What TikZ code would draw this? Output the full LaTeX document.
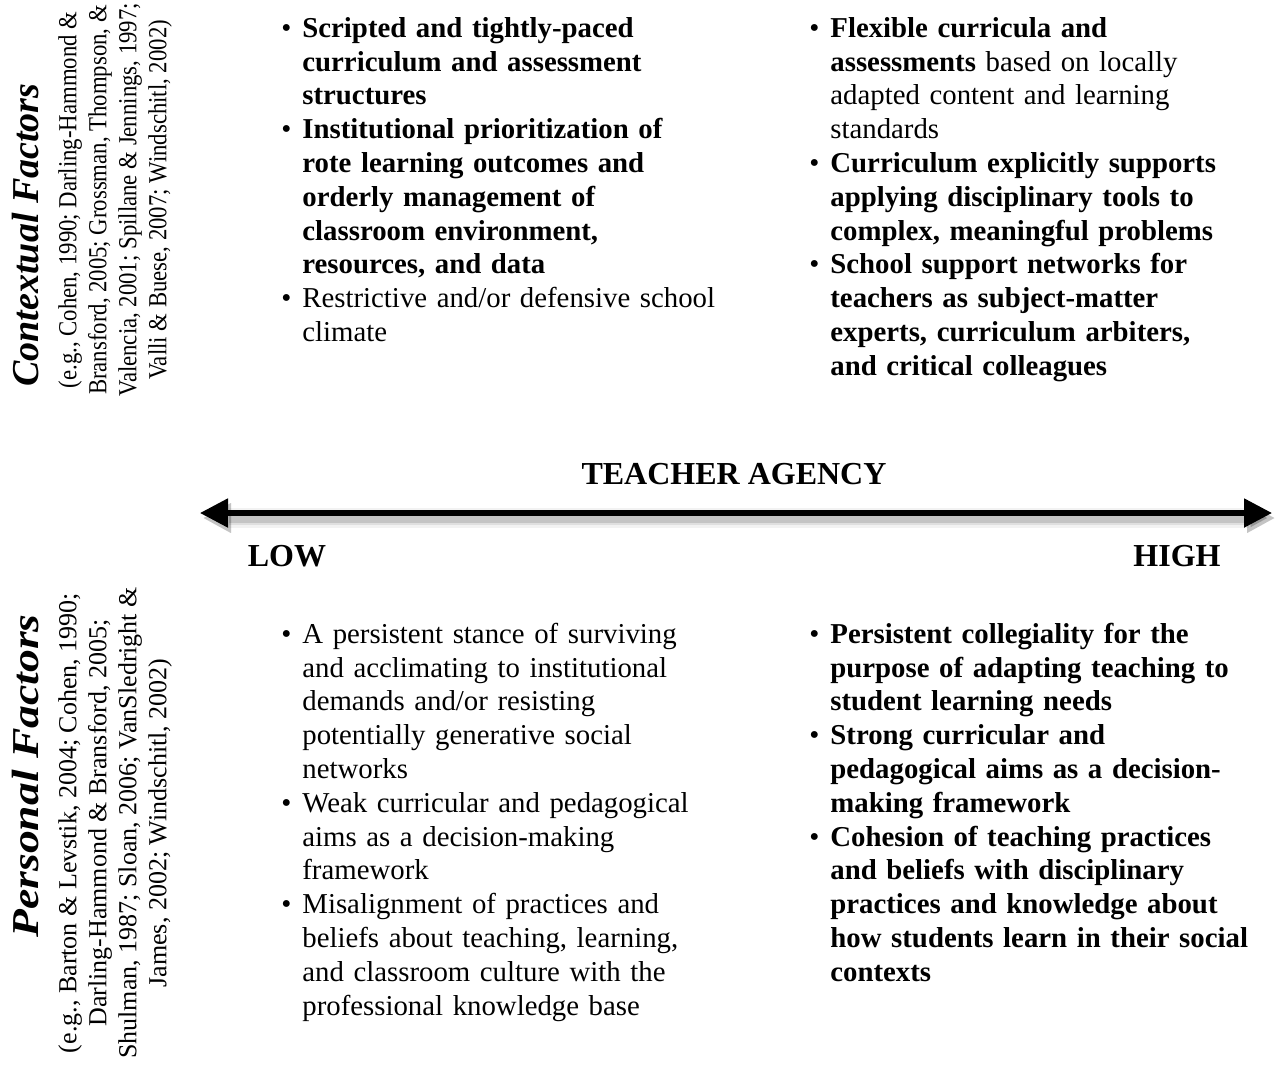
\documentclass[tikz,border=0pt]{standalone}
\usepackage{fontspec}
\setmainfont{Liberation Serif}
\newfontfamily\ctxcitefont[FakeStretch=0.875]{Liberation Serif}
\newfontfamily\perstitlefont[FakeStretch=1.2]{Liberation Serif}
\usepackage{enumitem}
\usetikzlibrary{arrows.meta, positioning}

% list used inside the four quadrant nodes
\newenvironment{agencylist}{%
  \begin{itemize}[leftmargin=11.5pt, labelsep=5.5pt, itemsep=0pt, topsep=0pt,
    parsep=0pt, partopsep=0pt, label=\textbullet]}{\end{itemize}}

\tikzset{
  quadrant/.style={anchor=north west, inner sep=0pt, text width=235pt,
    font=\fontsize{14.4}{16.9}\selectfont\raggedright},
  factortitle/.style={rotate=90, inner sep=0pt, font=\fontsize{19}{22}\selectfont\bfseries\itshape},
  citation/.style={rotate=90, inner sep=0pt, align=center, font=\fontsize{13}{15}\selectfont},
  ctxcitation/.style={citation, font=\fontsize{13}{15}\ctxcitefont},
  scalelabel/.style={inner sep=0pt, font=\fontsize{16}{18}\selectfont\bfseries},
  scaletip/.tip={Triangle[length=14pt, width=14pt]},
}

\begin{document}
\begin{tikzpicture}[x=0.5pt, y=-0.5pt]
  \useasboundingbox (0,0) rectangle (1280,1072);

  % Left side labels
  \node[factortitle] (ctxtitle) at (26,235) {Contextual Factors};
  \node[ctxcitation] (ctxcite) at (115,200) {(e.g., Cohen, 1990; Darling-Hammond \&\\
    Bransford, 2005; Grossman, Thompson, \&\\
    Valencia, 2001; Spillane \& Jennings, 1997;\\
    Valli \& Buese, 2007; Windschitl, 2002)};

  \node[factortitle, font=\fontsize{19}{22}\perstitlefont\bfseries\itshape] (perstitle) at (26,776) {Personal Factors};
  \node[citation] (perscite) at (115,823) {(e.g., Barton \& Levstik, 2004; Cohen, 1990;\\
    Darling-Hammond \& Bransford, 2005;\\
    Shulman, 1987; Sloan, 2006; VanSledright \&\\
    James, 2002; Windschitl, 2002)};

  % Contextual factors, low and high
  \node[quadrant] (ctxlow) at (279,3) {\begin{agencylist}
    \item \textbf{Scripted and tightly-paced\\ curriculum and assessment\\ structures}
    \item \textbf{Institutional prioritization of\\ rote learning outcomes and\\ orderly management of\\ classroom environment,\\ resources, and data}
    \item Restrictive and/or defensive school\\ climate
  \end{agencylist}};

  \node[quadrant] (ctxhigh) at (807,3) {\begin{agencylist}
    \item \textbf{Flexible curricula and\\ assessments} based on locally\\ adapted content and learning\\ standards
    \item \textbf{Curriculum explicitly supports\\ applying disciplinary tools to\\ complex, meaningful problems}
    \item \textbf{School support networks for\\ teachers as subject-matter\\ experts, curriculum arbiters,\\ and critical colleagues}
  \end{agencylist}};

  % The agency scale, with its soft shadow
  \coordinate (lowend) at (200,513);
  \coordinate (highend) at (1272,513);
  \foreach \w/\o in {10pt/0.05, 7pt/0.08, 5pt/0.12}
    \draw[line width=\w, black, opacity=\o, scaletip-scaletip]
      ([xshift=1.5pt, yshift=-2.5pt]lowend) -- ([xshift=1.5pt, yshift=-2.5pt]highend);
  \draw[line width=2.6pt, scaletip-scaletip] (lowend) -- (highend);
  \node[scalelabel] (agency) at (734,474) {TEACHER AGENCY};
  \node[scalelabel] (low) at (287,556) {LOW};
  \node[scalelabel] (high) at (1177,556) {HIGH};

  % Personal factors, low and high
  \node[quadrant] (perslow) at (279,609) {\begin{agencylist}
    \item A persistent stance of surviving\\ and acclimating to institutional\\ demands and/or resisting\\ potentially generative social\\ networks
    \item Weak curricular and pedagogical\\ aims as a decision-making\\ framework
    \item Misalignment of practices and\\ beliefs about teaching, learning,\\ and classroom culture with the\\ professional knowledge base
  \end{agencylist}};

  \node[quadrant] (pershigh) at (807,609) {\begin{agencylist}
    \item \textbf{Persistent collegiality for the\\ purpose of adapting teaching to\\ student learning needs}
    \item \textbf{Strong curricular and\\ pedagogical aims as a decision-\\ making framework}
    \item \textbf{Cohesion of teaching practices\\ and beliefs with disciplinary\\ practices and knowledge about\\ how students learn in their social\\ contexts}
  \end{agencylist}};
\end{tikzpicture}
\end{document}
